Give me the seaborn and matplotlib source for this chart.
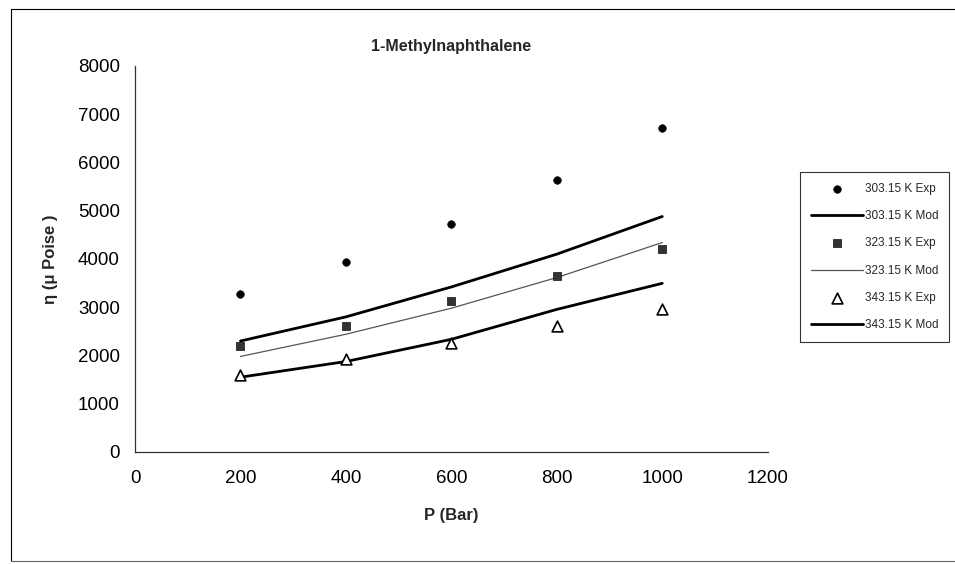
import matplotlib
matplotlib.use("Agg")
import matplotlib.pyplot as plt
import seaborn as sns
from matplotlib.lines import Line2D

# ------------------------------------------------------------
# Data
# ------------------------------------------------------------
pressure = [200, 400, 600, 800, 1000]

exp_303 = [3270, 3930, 4720, 5640, 6720]
mod_303 = [2300, 2800, 3420, 4100, 4880]

exp_323 = [2200, 2610, 3130, 3640, 4200]
mod_323 = [1980, 2440, 2980, 3615, 4340]

exp_343 = [1590, 1935, 2265, 2615, 2960]
mod_343 = [1550, 1875, 2335, 2955, 3495]

x_ticks = [0, 200, 400, 600, 800, 1000, 1200]
y_ticks = [0, 1000, 2000, 3000, 4000, 5000, 6000, 7000, 8000]

# ------------------------------------------------------------
# Figure setup
# ------------------------------------------------------------
sns.set_style("white")
plt.rcParams["font.family"] = ["Liberation Sans", "DejaVu Sans"]

fig = plt.figure(figsize=(9.55, 5.64), dpi=100)
ax = fig.add_axes([0.1414, 0.1986, 0.6625, 0.6845])

sns.scatterplot(x=pressure, y=exp_303, ax=ax, marker="o", s=30,
                color="black", edgecolor="black", label="303.15 K Exp", zorder=3)
sns.lineplot(x=pressure, y=mod_303, ax=ax, color="black", linewidth=2.0,
             label="303.15 K Mod")
sns.scatterplot(x=pressure, y=exp_323, ax=ax, marker="s", s=32,
                color="#333333", edgecolor="black", label="323.15 K Exp", zorder=3)
sns.lineplot(x=pressure, y=mod_323, ax=ax, color="#555555", linewidth=0.9,
             label="323.15 K Mod")
sns.scatterplot(x=pressure, y=exp_343, ax=ax, marker="^", s=60,
                facecolor="white", edgecolor="black", linewidth=1.2,
                label="343.15 K Exp", zorder=3)
sns.lineplot(x=pressure, y=mod_343, ax=ax, color="black", linewidth=2.0,
             label="343.15 K Mod")

# ------------------------------------------------------------
# Axes styling (Excel look)
# ------------------------------------------------------------
ax.set_xlim(0, 1200)
ax.set_ylim(0, 8000)
ax.set_xticks(x_ticks)
ax.set_yticks(y_ticks)
ax.tick_params(axis="both", direction="in", length=4, width=0.8,
               labelsize=13.5, colors="black", pad=13)
ax.tick_params(axis="y", pad=11)

for side in ["top", "right"]:
    ax.spines[side].set_visible(False)
for side in ["left", "bottom"]:
    ax.spines[side].set_color("#333333")
    ax.spines[side].set_linewidth(0.9)

ax.set_title("1-Methylnaphthalene", fontsize=11.5, fontweight="bold", pad=11)
ax.set_xlabel("P (Bar)", fontsize=12, fontweight="bold", labelpad=15)
ax.set_ylabel("η (μ Poise )", fontsize=12, fontweight="bold", labelpad=14)

# legend on the right
handles, labels = ax.get_legend_handles_labels()
ax.get_legend().remove()
leg = fig.legend(handles, labels, loc="upper left",
                 bbox_to_anchor=(800 / 955, 1 - 172 / 564),
                 fontsize=8.5, frameon=True, fancybox=False,
                 edgecolor="black", handlelength=4.4, handletextpad=0.2,
                 labelspacing=1.3, borderpad=0.9, borderaxespad=0)
leg.get_frame().set_linewidth(0.8)

# outer chart border
fig.add_artist(Line2D([11 / 955, 11 / 955], [1 - 9 / 564, 1 - 561 / 564],
                      color="black", linewidth=0.8))
fig.add_artist(Line2D([11 / 955, 1.0], [1 - 9 / 564, 1 - 9 / 564],
                      color="black", linewidth=0.8))
fig.add_artist(Line2D([11 / 955, 1.0], [1 - 561 / 564, 1 - 561 / 564],
                      color="#666666", linewidth=0.8))

plt.savefig("out.png", dpi=100)
